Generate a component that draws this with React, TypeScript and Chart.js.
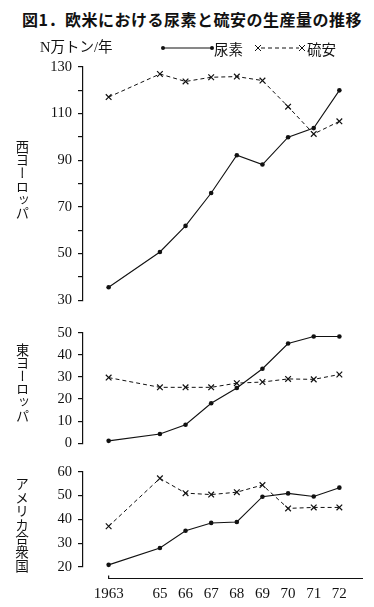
import React, { useEffect, useRef } from 'react';
import { Chart, registerables } from 'chart.js';
Chart.register(...registerables);

const years = [1963, 1965, 1966, 1967, 1968, 1969, 1970, 1971, 1972];
const xTickLabels = ['1963', '65', '66', '67', '68', '69', '70', '71', '72'];

const westUrea = [35.6, 50.7, 61.9, 76, 92.2, 88.2, 99.9, 103.8, 120];
const westAS = [117.1, 127, 123.8, 125.6, 125.9, 124.2, 113, 101.3, 106.7];
const eastUrea = [1.1, 4.2, 8.4, 18.1, 25, 33.7, 45.1, 48.3, 48.3];
const eastAS = [29.7, 25.3, 25.3, 25.3, 27.2, 27.7, 29.1, 28.9, 31.1];
const usUrea = [20.9, 28, 35.2, 38.5, 38.9, 49.5, 50.9, 49.6, 53.3];
const usAS = [37.1, 57.2, 51, 50.4, 51.4, 54.4, 44.6, 45, 45];

const westYLabels = [30, 50, 70, 90, 110, 130];
const eastYLabels = [0, 10, 20, 30, 40, 50];
const usYLabels = [20, 30, 40, 50, 60];

const seriesNames = ['尿素', '硫安'];
const panelNames = ['西ヨーロッパ', '東ヨーロッパ', 'アメリカ合衆国'];
const unitLabel = 'N万トン/年';
const titleText = '図1．欧米における尿素と硫安の生産量の推移';

const SERIF = '"Liberation Serif", "DejaVu Serif", serif';
const CJK = '"Noto Sans CJK JP", sans-serif';
const MIX = '"Liberation Serif", "Noto Sans CJK JP", serif';
const INK = '#111';

const panels = [
  { name: panelNames[0], urea: westUrea, as: westAS, min: 30, max: 130, labels: westYLabels, top: 30, height: 285, padTop: 37, padBottom: 11, showX: false, legend: true, nameTop: 140, nameSize: 13.3 },
  { name: panelNames[1], urea: eastUrea, as: eastAS, min: 0, max: 50, labels: eastYLabels, top: 318, height: 140, padTop: 11, padBottom: 10, showX: false, legend: false, nameTop: 343, nameSize: 13.2 },
  { name: panelNames[2], urea: usUrea, as: usAS, min: 20, max: 60, labels: usYLabels, top: 455, height: 152, padTop: 16.7, padBottom: 0, showX: true, legend: false, nameTop: 477, nameSize: 13.6 },
];

const legendPlugin = {
  id: 'customLegend',
  afterDraw(chart: any) {
    const ctx = chart.ctx;
    const y = 18;
    ctx.save();
    ctx.fillStyle = INK;
    ctx.strokeStyle = INK;
    ctx.textBaseline = 'middle';
    ctx.font = `14.5px ${MIX}`;
    ctx.textAlign = 'left';
    ctx.fillText(unitLabel, 40, y);
    // urea legend
    ctx.lineWidth = 1;
    ctx.setLineDash([]);
    ctx.beginPath();
    ctx.moveTo(163, y);
    ctx.lineTo(212, y);
    ctx.stroke();
    [163, 212].forEach((x) => {
      ctx.beginPath();
      ctx.arc(x, y, 2, 0, Math.PI * 2);
      ctx.fill();
    });
    ctx.font = `14.5px ${CJK}`;
    ctx.fillText(seriesNames[0], 214, y + 1);
    // AS legend
    ctx.setLineDash([4, 3]);
    ctx.beginPath();
    ctx.moveTo(261, y);
    ctx.lineTo(299, y);
    ctx.stroke();
    ctx.setLineDash([]);
    [258, 302].forEach((x) => {
      ctx.beginPath();
      ctx.moveTo(x - 3, y - 3);
      ctx.lineTo(x + 3, y + 3);
      ctx.moveTo(x - 3, y + 3);
      ctx.lineTo(x + 3, y - 3);
      ctx.stroke();
    });
    ctx.fillText(seriesNames[1], 307, y + 1);
    ctx.restore();
  },
};

const xLinePlugin = {
  id: 'xLine',
  afterDraw(chart: any) {
    const { ctx, chartArea, scales } = chart;
    const x0 = scales.x.getPixelForValue(years[0]);
    const y = chartArea.bottom + 11.5;
    ctx.save();
    ctx.strokeStyle = INK;
    ctx.lineWidth = 1.2;
    ctx.beginPath();
    ctx.moveTo(x0, y - 3);
    ctx.lineTo(x0, y);
    ctx.lineTo(chartArea.right - 2, y);
    ctx.stroke();
    ctx.restore();
  },
};

function makeConfig(p: any) {
  const toPts = (arr: number[]) => years.map((x, i) => ({ x, y: arr[i] }));
  return {
    type: 'line',
    data: {
      datasets: [
        {
          label: seriesNames[0],
          data: toPts(p.urea),
          borderColor: INK,
          backgroundColor: INK,
          borderWidth: 1.1,
          pointStyle: 'circle',
          pointRadius: 2.3,
          pointBorderWidth: 0,
          tension: 0,
          clip: false,
        },
        {
          label: seriesNames[1],
          data: toPts(p.as),
          borderColor: INK,
          backgroundColor: INK,
          borderWidth: 1,
          borderDash: [4, 3],
          pointStyle: 'crossRot',
          pointRadius: 4,
          pointBorderWidth: 1.2,
          tension: 0,
          clip: false,
        },
      ],
    },
    options: {
      animation: false,
      responsive: false,
      devicePixelRatio: 1,
      layout: { padding: { top: p.padTop, bottom: p.padBottom, left: 0, right: 9 } },
      plugins: { legend: { display: false }, tooltip: { enabled: false } },
      scales: {
        x: {
          type: 'linear',
          min: 1962,
          max: 1973,
          display: p.showX,
          border: { display: false },
          grid: { display: false, drawTicks: false },
          ticks: {
            autoSkip: false,
            maxRotation: 0,
            padding: 18,
            color: INK,
            font: { family: SERIF, size: 15 },
            callback: (v: number) => {
              const i = years.indexOf(v);
              return i >= 0 ? xTickLabels[i] : '';
            },
          },
          afterBuildTicks: (s: any) => {
            s.ticks = years.map((v) => ({ value: v }));
          },
          afterFit: (s: any) => {
            if (p.showX) s.height = 40;
          },
        },
        y: {
          type: 'linear',
          position: 'left',
          min: p.min,
          max: p.max,
          border: { display: true, color: INK, width: 1.2 },
          grid: { drawOnChartArea: false, drawTicks: true, tickLength: 5, color: INK, lineWidth: 1.2 },
          ticks: {
            stepSize: 10,
            autoSkip: false,
            padding: 6,
            color: INK,
            font: { family: SERIF, size: 14.5 },
            callback: (v: number) => (p.labels.includes(v) ? String(v) : ''),
          },
          afterFit: (s: any) => {
            s.width = 83;
          },
        },
      },
    },
    plugins: [p.legend ? legendPlugin : null, p.showX ? xLinePlugin : null].filter(Boolean),
  };
}

export default function App() {
  const refs = [useRef<HTMLCanvasElement>(null), useRef<HTMLCanvasElement>(null), useRef<HTMLCanvasElement>(null)];
  useEffect(() => {
    const charts = panels.map((p, i) => new Chart(refs[i].current as HTMLCanvasElement, makeConfig(p) as any));
    return () => charts.forEach((c) => c.destroy());
  }, []);
  return (
    <div style={{ position: 'absolute', left: 0, top: 0, width: 374, height: 607, background: '#fff', overflow: 'hidden' }}>
      <div
        style={{
          position: 'absolute',
          left: 22,
          top: 9,
          fontFamily: CJK,
          fontWeight: 700,
          fontSize: 16,
          lineHeight: '20px',
          letterSpacing: '0.5px',
          whiteSpace: 'nowrap',
          color: INK,
        }}
      >
        {titleText}
      </div>
      {panels.map((p, i) => (
        <canvas
          key={'c' + i}
          ref={refs[i]}
          width={374}
          height={p.height}
          style={{ position: 'absolute', left: 0, top: p.top, width: 374, height: p.height }}
        />
      ))}
      {panels.map((p, i) => (
        <div
          key={'n' + i}
          style={{
            position: 'absolute',
            left: 15,
            top: p.nameTop,
            writingMode: 'vertical-rl',
            fontFamily: CJK,
            fontSize: p.nameSize,
            lineHeight: '14px',
            color: INK,
            whiteSpace: 'nowrap',
          }}
        >
          {p.name}
        </div>
      ))}
    </div>
  );
}
